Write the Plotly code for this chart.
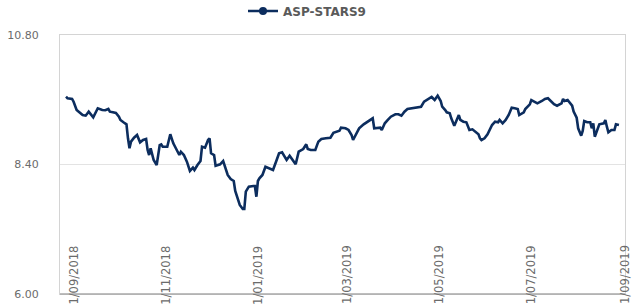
import plotly.graph_objects as go

series_name = "ASP-STARS9"

dates = [
    "2018-08-27", "2018-08-28", "2018-08-31", "2018-09-01", "2018-09-03", "2018-09-05", "2018-09-07",
    "2018-09-09", "2018-09-11", "2018-09-14", "2018-09-17", "2018-09-20", "2018-09-22", "2018-09-24",
    "2018-09-25", "2018-09-27", "2018-09-29", "2018-10-01", "2018-10-02", "2018-10-04", "2018-10-06",
    "2018-10-07", "2018-10-08", "2018-10-09", "2018-10-11", "2018-10-13", "2018-10-15", "2018-10-17",
    "2018-10-19", "2018-10-20", "2018-10-21", "2018-10-22", "2018-10-24", "2018-10-26", "2018-10-28",
    "2018-10-29", "2018-10-30", "2018-11-02", "2018-11-04", "2018-11-06", "2018-11-08", "2018-11-10",
    "2018-11-11", "2018-11-13", "2018-11-15", "2018-11-17", "2018-11-19", "2018-11-20", "2018-11-22",
    "2018-11-24", "2018-11-25", "2018-11-27", "2018-11-29", "2018-11-30", "2018-12-01", "2018-12-03",
    "2018-12-04", "2018-12-07", "2018-12-09", "2018-12-11", "2018-12-12", "2018-12-14", "2018-12-16",
    "2018-12-17", "2018-12-19", "2018-12-20", "2018-12-22", "2018-12-23", "2018-12-24", "2018-12-26",
    "2018-12-29", "2018-12-30", "2018-12-31", "2019-01-01", "2019-01-02", "2019-01-04", "2019-01-06",
    "2019-01-09", "2019-01-11", "2019-01-13", "2019-01-15", "2019-01-17", "2019-01-20", "2019-01-22",
    "2019-01-24", "2019-01-26", "2019-01-28", "2019-01-31", "2019-02-02", "2019-02-03", "2019-02-05",
    "2019-02-08", "2019-02-10", "2019-02-12", "2019-02-15", "2019-02-18", "2019-02-20", "2019-02-22",
    "2019-02-24", "2019-02-25", "2019-02-28", "2019-03-02", "2019-03-04", "2019-03-05", "2019-03-07",
    "2019-03-09", "2019-03-12", "2019-03-15", "2019-03-18", "2019-03-19", "2019-03-21", "2019-03-23",
    "2019-03-24", "2019-03-26", "2019-03-28", "2019-03-30", "2019-04-02", "2019-04-04", "2019-04-06",
    "2019-04-08", "2019-04-10", "2019-04-13", "2019-04-16", "2019-04-19", "2019-04-21", "2019-04-24",
    "2019-04-26", "2019-04-28", "2019-04-30", "2019-05-02", "2019-05-03", "2019-05-05", "2019-05-06",
    "2019-05-08", "2019-05-09", "2019-05-11", "2019-05-12", "2019-05-14", "2019-05-15", "2019-05-17",
    "2019-05-19", "2019-05-21", "2019-05-23", "2019-05-25", "2019-05-27", "2019-05-28", "2019-05-29",
    "2019-05-31", "2019-06-02", "2019-06-05", "2019-06-07", "2019-06-09", "2019-06-10", "2019-06-12",
    "2019-06-14", "2019-06-16", "2019-06-18", "2019-06-20", "2019-06-22", "2019-06-23", "2019-06-26",
    "2019-06-27", "2019-06-30", "2019-07-01", "2019-07-03", "2019-07-05", "2019-07-08", "2019-07-10",
    "2019-07-12", "2019-07-14", "2019-07-16", "2019-07-18", "2019-07-21", "2019-07-22", "2019-07-23",
    "2019-07-25", "2019-07-28", "2019-07-29", "2019-07-31", "2019-08-01", "2019-08-03", "2019-08-04",
    "2019-08-05", "2019-08-07", "2019-08-09", "2019-08-10", "2019-08-11", "2019-08-12", "2019-08-14",
    "2019-08-15", "2019-08-18", "2019-08-19", "2019-08-20", "2019-08-21", "2019-08-23", "2019-08-25",
    "2019-08-26", "2019-08-28",
]

values = [
    9.657, 9.627, 9.614, 9.564, 9.410, 9.367, 9.317,
    9.305, 9.379, 9.275, 9.442, 9.410, 9.405, 9.429,
    9.379, 9.367, 9.355, 9.286, 9.225, 9.182, 9.145,
    8.886, 8.700, 8.823, 8.897, 8.947, 8.811, 8.854,
    8.873, 8.669, 8.576, 8.700, 8.484, 8.391, 8.761,
    8.774, 8.730, 8.730, 8.960, 8.793, 8.669, 8.576,
    8.637, 8.576, 8.452, 8.280, 8.341, 8.298, 8.391,
    8.465, 8.730, 8.711, 8.854, 8.886, 8.608, 8.576,
    8.378, 8.404, 8.465, 8.280, 8.206, 8.131, 8.094,
    7.909, 7.711, 7.650, 7.575, 7.575, 7.896, 7.989,
    8.002, 8.002, 7.803, 8.094, 8.144, 8.206, 8.359,
    8.330, 8.298, 8.452, 8.608, 8.626, 8.484, 8.563,
    8.484, 8.404, 8.637, 8.687, 8.774, 8.687, 8.669,
    8.669, 8.823, 8.873, 8.886, 8.897, 8.989, 9.008,
    9.026, 9.082, 9.071, 9.040, 8.947, 8.854, 8.978,
    9.071, 9.145, 9.193, 9.256, 9.071, 9.071, 9.082,
    9.040, 9.164, 9.225, 9.286, 9.330, 9.330, 9.305,
    9.379, 9.429, 9.442, 9.453, 9.471, 9.564, 9.614,
    9.651, 9.595, 9.675, 9.577, 9.471, 9.410, 9.367,
    9.349, 9.256, 9.119, 9.193, 9.317, 9.225, 9.193,
    9.182, 9.040, 9.052, 9.008, 8.960, 8.886, 8.854,
    8.886, 8.960, 9.132, 9.193, 9.182, 9.225, 9.164,
    9.225, 9.317, 9.453, 9.442, 9.429, 9.317, 9.367,
    9.429, 9.516, 9.595, 9.558, 9.534, 9.577, 9.614,
    9.627, 9.577, 9.516, 9.490, 9.534, 9.614, 9.577,
    9.595, 9.490, 9.379, 9.267, 9.071, 8.934, 9.021,
    9.206, 9.182, 9.182, 9.071, 9.164, 8.915, 9.082,
    9.145, 9.164, 9.225, 9.101, 8.997, 9.040, 9.040,
    9.145, 9.132,
]

x_tick_dates = ["2018-09-01", "2018-11-01", "2019-01-01", "2019-03-01",
                "2019-05-01", "2019-07-01", "2019-09-01"]
x_tick_labels = ["1/09/2018", "1/11/2018", "1/01/2019", "1/03/2019",
                 "1/05/2019", "1/07/2019", "1/09/2019"]

y_tick_vals = [6.0, 8.4, 10.8]
y_tick_labels = ["6.00", "8.40", "10.80"]

LINE_COLOR = "#0c2d5e"
TEXT_COLOR = "#6b6b6b"

fig = go.Figure()
fig.add_trace(go.Scatter(
    x=dates, y=values, mode="lines",
    line=dict(color=LINE_COLOR, width=2.6),
    showlegend=False, name=series_name,
))
fig.add_trace(go.Scatter(
    x=[None], y=[None], mode="lines+markers",
    line=dict(color=LINE_COLOR, width=2.6),
    marker=dict(color=LINE_COLOR, size=8),
    name=series_name, showlegend=True,
))

for d, lab in zip(x_tick_dates, x_tick_labels):
    fig.add_annotation(
        x=d, xref="x", y=0.195, yref="paper",
        text=lab, textangle=-90, showarrow=False,
        xanchor="center", yanchor="top",
        font=dict(family="DejaVu Sans", size=11.5, color=TEXT_COLOR),
    )

fig.add_shape(type="line", xref="paper", yref="paper", x0=0, x1=1, y0=0, y1=0,
              line=dict(color="#a8a8a8", width=1.3))

fig.update_layout(
    width=637, height=306,
    margin=dict(l=60, r=12, t=35, b=12, autoexpand=False),
    paper_bgcolor="white", plot_bgcolor="white",
    font=dict(family="DejaVu Sans", color=TEXT_COLOR),
    showlegend=True,
    legend=dict(
        orientation="h",
        xref="container", x=243 / 637, xanchor="left",
        yref="container", y=1 - 11 / 306, yanchor="middle",
        font=dict(family="DejaVu Sans", size=12, color="#5a5a5a", weight="bold"),
        bgcolor="rgba(0,0,0,0)",
    ),
    xaxis=dict(
        type="date", range=["2018-08-23", "2019-09-01"],
        showticklabels=False, showgrid=False, ticks="",
        showline=True, mirror=True, linecolor="#d4d4d4", linewidth=1,
        zeroline=False,
    ),
    yaxis=dict(
        range=[6.0, 10.8], tickvals=y_tick_vals, ticktext=y_tick_labels,
        showgrid=True, gridcolor="#e3e3e3", gridwidth=1,
        showline=True, mirror=True, linecolor="#d4d4d4", linewidth=1,
        ticks="", ticklabelstandoff=18, zeroline=False,
        tickfont=dict(family="DejaVu Sans", size=11, color=TEXT_COLOR),
    ),
)

fig.write_html(
    "out.html",
    config={"displayModeBar": False},
    post_script="document.body.style.margin='0';document.body.style.overflow='hidden';",
)
